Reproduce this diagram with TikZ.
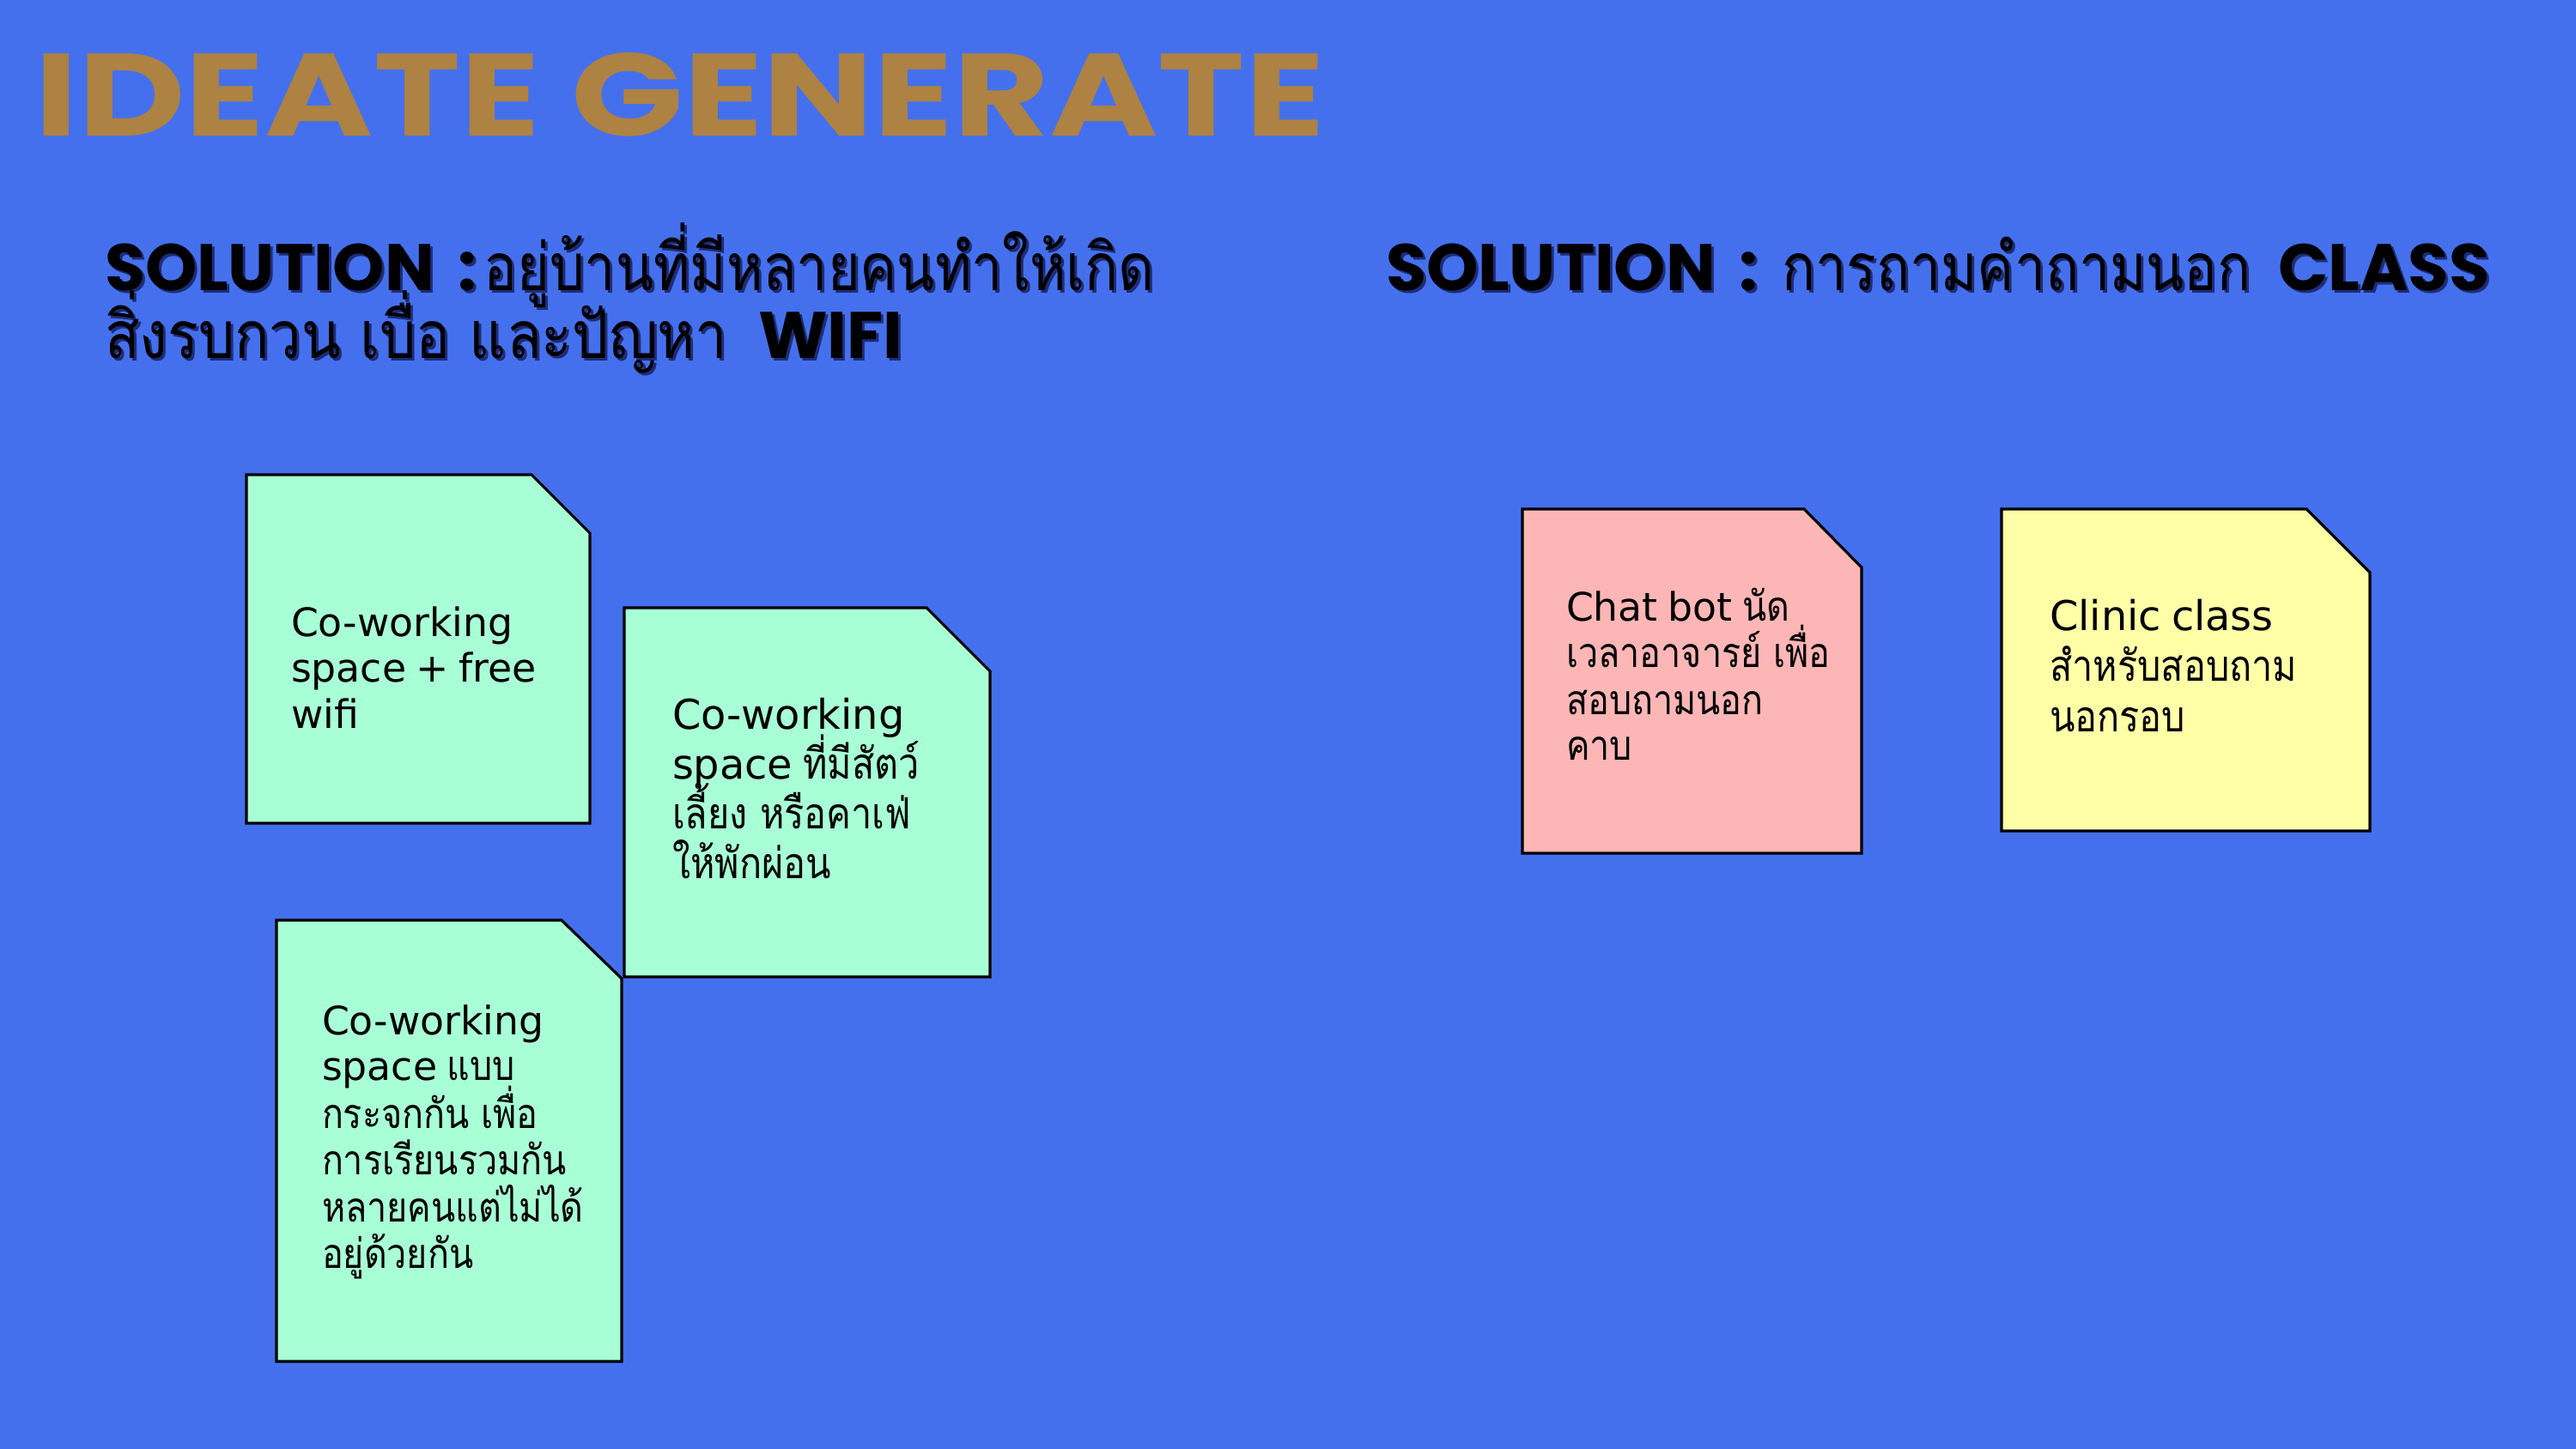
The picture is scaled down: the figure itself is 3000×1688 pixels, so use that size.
\documentclass[tikz,border=0pt]{standalone}
\usepackage{fontspec}
\setmainfont{DejaVu Sans}
\newfontfamily\thai[Script=Thai,Scale=1.05,FakeStretch=0.86]{Loma}
\newfontfamily\hthai[Script=Thai,Scale=1.0,FakeStretch=0.84]{Loma}
\newfontfamily\hthaiw[Script=Thai,Scale=1.0,FakeStretch=0.87]{Loma}
\newfontfamily\hlat{Poppins}
\newfontfamily\notelat[WordSpace=0.8]{DejaVu Sans}
\definecolor{bg}{RGB}{69,112,237}
\definecolor{gold}{RGB}{173,130,66}
\definecolor{shad}{RGB}{30,44,120}
\definecolor{mint}{RGB}{168,255,214}
\definecolor{pinknote}{RGB}{253,182,182}
\definecolor{yellownote}{RGB}{255,255,168}
\newlength\pxu
\setlength\pxu{0.01cm}
\newcommand\withshadow[1]{\rlap{\hspace{3\pxu}\raisebox{-3\pxu}{\color{shad}#1}}#1}
\tikzset{
  notebox/.style={draw=black, line width=0.9pt, line join=miter},
  lineA/.style={anchor=base west, inner sep=0pt, outer sep=0pt, text=black, font=\notelat\fontsize{13}{15}\selectfont},
  lineB/.style={anchor=base west, inner sep=0pt, outer sep=0pt, text=black, font=\notelat\fontsize{13.6}{16}\selectfont},
  headtext/.style={anchor=base west, inner sep=0pt, outer sep=0pt, text=black, font=\fontsize{21.8}{26}\selectfont},
}
\newcommand\hA{{\hlat\bfseries SOLUTION\hspace{28\pxu}:}\hspace{8\pxu}{\hthai อยู่บ้านที่มีหลายคนทำให้เกิด}}
\newcommand\hB{{\hthaiw สิ่งรบกวน เบื่อ และปัญหา}\hspace{36\pxu}{\hlat\bfseries WIFI}}
\newcommand\hC{{\hlat\bfseries SOLUTION\hspace{28\pxu}:}\hspace{28\pxu}{\hthai การถามคำถามนอก}\hspace{32\pxu}{\hlat\bfseries CLASS}}
\begin{document}
\begin{tikzpicture}[x=0.01cm,y=-0.01cm]
\fill[bg] (0,0) rectangle (3000,1688);
\useasboundingbox (0,0) rectangle (3000,1688);
% title
\node[anchor=base west, inner sep=0pt, text=gold] (title) at (40,158)
  {\resizebox{1502\pxu}{97\pxu}{\hlat\bfseries IDEATE GENERATE}};
% headings (text with drop shadow)
\node[headtext] (hA) at (122,338) {\withshadow{\hA}};
\node[headtext] (hB) at (122,417) {\withshadow{\hB}};
\node[headtext] (hC) at (1614,338) {\withshadow{\hC}};
% notes
\draw[notebox, fill=mint] (287,553) -- (619,553) -- (687,621) -- (687,959) -- (287,959) -- cycle;
\draw[notebox, fill=mint] (727,708) -- (1079,708) -- (1153,782) -- (1153,1138) -- (727,1138) -- cycle;
\draw[notebox, fill=mint] (322,1072) -- (654,1072) -- (724,1140) -- (724,1586) -- (322,1586) -- cycle;
\draw[notebox, fill=pinknote] (1773,593) -- (2101,593) -- (2168,661) -- (2168,994) -- (1773,994) -- cycle;
\draw[notebox, fill=yellownote] (2331,593) -- (2686,593) -- (2760,667) -- (2760,968) -- (2331,968) -- cycle;
% note 1
\node[lineA] (n1a) at (339,741) {Co-working};
\node[lineA] (n1b) at (339,794) {space + free};
\node[lineA] (n1c) at (339,848) {wifi};
% note 2
\node[lineB] (n2a) at (783,849) {Co-working};
\node[lineB] (n2b) at (783,907) {space {\thai ที่มีสัตว์}};
\node[lineB] (n2c) at (783,965) {\thai เลี้ยง หรือคาเฟ่};
\node[lineB] (n2d) at (783,1023) {\thai ให้พักผ่อน};
% note 3
\node[lineA] (n3a) at (375,1205) {Co-working};
\node[lineA] (n3b) at (375,1258) {space {\thai แบบ}};
\node[lineA] (n3c) at (375,1314) {\thai กระจกกัน เพื่อ};
\node[lineA] (n3d) at (375,1368) {\thai การเรียนรวมกัน};
\node[lineA] (n3e) at (375,1423) {\thai หลายคนแต่ไม่ได้};
\node[lineA] (n3f) at (375,1477) {\thai อยู่ด้วยกัน};
% note 4
\node[lineA] (n4a) at (1824,723) {Chat bot {\thai นัด}};
\node[lineA] (n4b) at (1824,777) {\thai เวลาอาจารย์ เพื่อ};
\node[lineA] (n4c) at (1824,832) {\thai สอบถามนอก};
\node[lineA] (n4d) at (1824,885) {\thai คาบ};
% note 5
\node[lineB] (n5a) at (2387,734) {Clinic class};
\node[lineB] (n5b) at (2387,793) {\thai สำหรับสอบถาม};
\node[lineB] (n5c) at (2387,852) {\thai นอกรอบ};
\end{tikzpicture}
\end{document}
